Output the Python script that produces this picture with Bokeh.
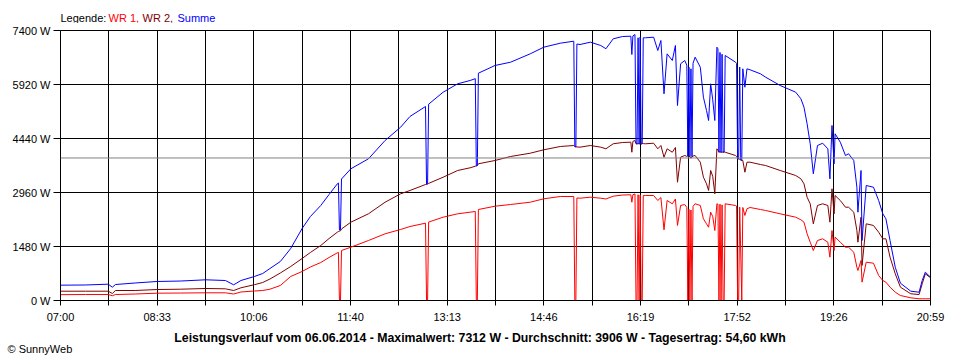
from bokeh.plotting import figure
from bokeh.layouts import column
from bokeh.models import (Range1d, FixedTicker, CustomJSTickFormatter, PrintfTickFormatter,
                          Span, ColumnDataSource)
from bokeh.core.properties import value
from bokeh.embed import file_html
from bokeh.resources import INLINE

# ---------------- data ----------------
times = ["07:00", "07:24", "07:46", "07:50", "07:53", "08:12", "08:33", "08:56", "09:20", "09:39",
         "09:47", "09:54", "10:07", "10:15", "10:22", "10:32", "10:42", "10:53", "11:01", "11:11",
         "11:19", "11:27", "11:28", "11:29", "11:30", "11:31", "11:40", "11:57", "12:13", "12:28",
         "12:37", "12:52", "12:53", "12:54", "12:55", "13:09", "13:23", "13:35", "13:40", "13:41",
         "13:42", "13:43", "13:59", "14:14", "14:33", "14:46", "15:02", "15:15", "15:16", "15:17",
         "15:18", "15:21", "15:31", "15:41", "15:46", "15:53", "16:02", "16:10", "16:11", "16:12",
         "16:14", "16:15", "16:16", "16:17", "16:18", "16:19", "16:20", "16:21", "16:22", "16:24",
         "16:32", "16:36", "16:39", "16:42", "16:45", "16:50", "16:53", "16:55", "16:58", "17:02",
         "17:04", "17:05", "17:06", "17:07", "17:08", "17:09", "17:10", "17:12", "17:17", "17:20",
         "17:23", "17:25", "17:27", "17:29", "17:31", "17:33", "17:34", "17:35", "17:36", "17:37",
         "17:38", "17:39", "17:40", "17:41", "17:51", "17:52", "17:53", "17:54", "17:55", "17:56",
         "17:57", "17:58", "18:00", "18:02", "18:05", "18:15", "18:20", "18:34", "18:49", "18:54",
         "18:57", "19:00", "19:03", "19:06", "19:10", "19:15", "19:20", "19:22", "19:24", "19:26",
         "19:27", "19:32", "19:37", "19:40", "19:45", "19:48", "19:49", "19:52", "19:53", "19:57",
         "20:04", "20:09", "20:13", "20:16", "20:20", "20:25", "20:30", "20:40", "20:48", "20:51",
         "20:54", "20:59"]

summe = [420, 425, 447, 365, 438, 480, 521, 534, 567, 548,
         430, 548, 658, 740, 877, 1069, 1425, 1973, 2302, 2604,
         2905, 3198, 3220, 1930, 1940, 3330, 3610, 3884, 4385, 4750,
         5043, 5317, 3190, 3200, 5380, 5709, 5939, 6030, 6080, 3690,
         3700, 6230, 6441, 6531, 6761, 6942, 7052, 7107, 4220, 4210,
         7030, 7016, 7080, 6989, 6900, 7172, 7235, 7244, 6742, 7250,
         7290, 4300, 4290, 7200, 4290, 7220, 4290, 4300, 7200, 7200,
         7216, 6852, 7126, 5665, 6761, 6578, 6989, 5344, 6487, 6578,
         6450, 3960, 6400, 3950, 6350, 3940, 6500, 6669, 6394, 5572,
         5207, 4933, 5939, 5500, 4933, 6942, 6900, 4064, 6800, 4060,
         6750, 4064, 4070, 6715, 6531, 6500, 3900, 3880, 6400, 3850,
         3840, 6350, 5846, 6350, 6323, 6213, 6120, 5893, 5709, 5528,
         5298, 4843, 4295, 3473, 4248, 4311, 4158, 3335, 4796, 3747,
         4569, 4339, 3974, 4021, 3837, 3105, 2420, 3563, 1644, 3152,
         3105, 2741, 2376, 2239, 1644, 913, 474, 255, 228, 548,
         776, 639]

wr2 = [255, 255, 255, 192, 274, 274, 301, 310, 329, 320,
       274, 348, 433, 493, 589, 754, 932, 1151, 1316, 1507,
       1699, 1872, 1890, 1900, 1910, 1960, 2146, 2376, 2694, 2924,
       3015, 3179, 3180, 3190, 3210, 3379, 3563, 3637, 3680, 3690,
       3700, 3747, 3837, 3947, 4037, 4130, 4221, 4248, 4220, 4210,
       4210, 4202, 4248, 4202, 4158, 4295, 4330, 4339, 4064, 4360,
       4385, 4300, 4290, 4300, 4290, 4300, 4290, 4300, 4300, 4295,
       4311, 4158, 4248, 3927, 4158, 4064, 4193, 3242, 3927, 3974,
       3950, 3960, 3940, 3950, 3900, 3940, 3960, 3974, 3790, 3379,
       3198, 3015, 3563, 3400, 2924, 4158, 4120, 4064, 4080, 4060,
       4070, 4064, 4070, 4064, 3974, 3950, 3900, 3880, 3870, 3850,
       3840, 3837, 3516, 3790, 3790, 3727, 3700, 3563, 3426, 3335,
       3198, 2831, 2650, 2102, 2604, 2650, 2604, 2146, 3061, 2376,
       2878, 2741, 2557, 2557, 2420, 1918, 1598, 2283, 960, 2102,
       2056, 1872, 1691, 1691, 1187, 732, 365, 184, 164, 458,
       732, 622]

wr1 = [160, 164, 164, 130, 164, 178, 200, 205, 211, 211,
       178, 233, 260, 274, 310, 411, 658, 795, 918, 1041,
       1179, 1307, 1320, 0, 0, 1370, 1461, 1644, 1828, 1946,
       2028, 2119, 0, 0, 2150, 2283, 2376, 2420, 2440, 0,
       0, 2494, 2584, 2631, 2694, 2787, 2850, 2850, 0, 0,
       2810, 2804, 2831, 2804, 2782, 2859, 2891, 2897, 2694, 2900,
       2919, 0, 0, 2900, 0, 2890, 0, 0, 2880, 2878,
       2878, 2741, 2823, 1938, 2741, 2650, 2782, 2056, 2604, 2631,
       2550, 0, 2500, 0, 2480, 0, 2580, 2650, 2604, 2239,
       2102, 2009, 2420, 2300, 1918, 2650, 2640, 0, 2640, 0,
       2620, 0, 0, 2650, 2604, 2590, 0, 0, 2560, 1300,
       0, 2549, 2330, 2513, 2549, 2494, 2467, 2376, 2283, 2212,
       2146, 1828, 1598, 1370, 1644, 1691, 1598, 1187, 1918, 1370,
       1735, 1598, 1461, 1461, 1324, 913, 822, 1096, 502, 1050,
       1022, 685, 548, 502, 365, 228, 137, 74, 47, 47,
       47, 47]

durchschnitt = 3906
y_ticks = [0, 1480, 2960, 4440, 5920, 7400]
x_tick_labels = ["07:00", "08:33", "10:06", "11:40", "13:13", "14:46", "16:19", "17:52", "19:26", "20:59"]
legend_texts = ["Legende: ", "WR 1, ", "WR 2, ", "Summe"]
legend_colors = ["black", "#FF0000", "#800000", "#0000FF"]
title_text = ("Leistungsverlauf vom 06.06.2014 - Maximalwert: 7312 W - "
              "Durchschnitt: 3906 W - Tagesertrag: 54,60 kWh")
copyright_text = "\u00a9 SunnyWeb"

# ---------------- build ----------------
def to_min(t):
    h, m = t.split(":")
    return int(h) * 60 + int(m) - 7 * 60

xs = [to_min(t) for t in times]
x_end = to_min(x_tick_labels[-1])
step = x_end / 18.0
x_ticks = [i * step for i in range(19)]

src = ColumnDataSource(dict(x=xs, wr1=wr1, wr2=wr2, summe=summe))

FONT = "Liberation Sans"
W = 952


def text_strip(height):
    f = figure(width=W, height=height, x_range=Range1d(0, W), y_range=Range1d(height, 0),
               output_backend="svg", toolbar_location=None, x_axis_type=None, y_axis_type=None,
               min_border=0, min_border_left=0, min_border_right=0, min_border_top=0,
               min_border_bottom=0, frame_align=False)
    f.outline_line_color = None
    f.background_fill_color = "white"
    f.border_fill_color = "white"
    f.xgrid.visible = False
    f.ygrid.visible = False
    return f


# top strip: multi-coloured legend line
top = text_strip(23)
legend_x = [60, 108, 142, 177]
for txt, col, lx in zip(legend_texts, legend_colors, legend_x):
    top.text(x=[lx], y=[17], text=[txt], text_color=col, text_font=value(FONT),
             text_font_size="11px", text_baseline="middle", text_align="left")

# main chart
p = figure(width=W, height=307, x_range=Range1d(0, x_end), y_range=Range1d(0, 7400),
           output_backend="svg", toolbar_location=None, frame_align=False,
           min_border_left=60, min_border_right=22, min_border_top=7, min_border_bottom=30)
p.background_fill_color = "white"
p.border_fill_color = "white"
p.outline_line_color = "black"
p.outline_line_width = 1

p.xgrid.ticker = FixedTicker(ticks=x_ticks)
p.ygrid.ticker = FixedTicker(ticks=y_ticks)
for g in (p.xgrid, p.ygrid):
    g.grid_line_color = "black"
    g.grid_line_alpha = 1.0
    g.grid_line_width = 1

xa = p.xaxis[0]
xa.ticker = FixedTicker(ticks=x_ticks)
xa.formatter = CustomJSTickFormatter(args=dict(labels=x_tick_labels, step=step), code="""
const i = Math.round(tick / step);
return (i % 2 === 0) ? labels[i / 2] : "";
""")
xa.major_tick_out = 5
xa.major_tick_in = 0
xa.minor_tick_out = 0
xa.minor_tick_in = 0
xa.major_label_standoff = 5

ya = p.yaxis[0]
ya.ticker = FixedTicker(ticks=y_ticks)
ya.formatter = PrintfTickFormatter(format="%d W")
ya.major_tick_out = 7
ya.major_tick_in = 0
ya.minor_tick_out = 0
ya.minor_tick_in = 0
ya.major_label_standoff = 3

for ax in (xa, ya):
    ax.axis_line_color = "black"
    ax.major_tick_line_color = "black"
    ax.major_label_text_font = FONT
    ax.major_label_text_font_size = "11px"
    ax.major_label_text_color = "black"

p.add_layout(Span(location=durchschnitt, dimension="width", line_color="#808080", line_width=1))

p.line("x", "wr1", source=src, line_color="#FF0000", line_width=1)
p.line("x", "wr2", source=src, line_color="#800000", line_width=1)
p.line("x", "summe", source=src, line_color="#0000FF", line_width=1)

# bottom strip: title and copyright
bottom = text_strip(28)
bottom.text(x=[479.5], y=[7], text=[title_text], text_color="black", text_font=value(FONT),
            text_font_size="12.3px", text_font_style="bold", text_baseline="middle", text_align="center")
bottom.text(x=[7], y=[18], text=[copyright_text], text_color="black", text_font=value(FONT),
            text_font_size="11px", text_baseline="middle", text_align="left")

layout = column(top, p, bottom, spacing=0)
open("out.html", "w").write(file_html(layout, INLINE))
